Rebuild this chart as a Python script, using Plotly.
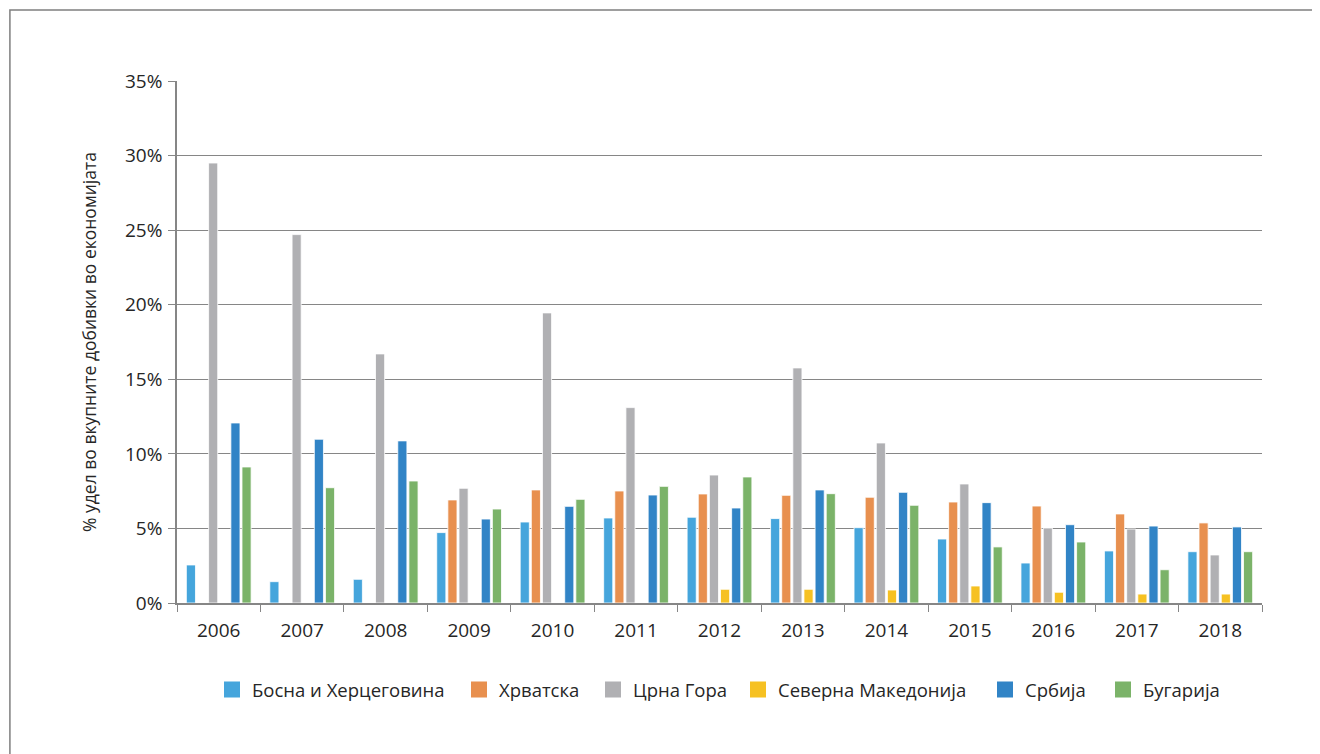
import plotly.graph_objects as go

years = ["2006", "2007", "2008", "2009", "2010", "2011", "2012", "2013", "2014", "2015", "2016", "2017", "2018"]

bih = [2.55, 1.43, 1.59, 4.72, 5.43, 5.70, 5.75, 5.66, 5.05, 4.29, 2.68, 3.49, 3.44]
hrv = [None, None, None, 6.91, 7.58, 7.51, 7.31, 7.22, 7.09, 6.77, 6.50, 5.97, 5.37]
mne = [29.5, 24.7, 16.7, 7.69, 19.45, 13.1, 8.58, 15.76, 10.73, 7.98, 5.03, 4.96, 3.22]
mkd = [None, None, None, None, None, None, 0.92, 0.92, 0.87, 1.14, 0.72, 0.60, 0.60]
srb = [12.07, 10.98, 10.87, 5.63, 6.48, 7.24, 6.37, 7.58, 7.42, 6.73, 5.25, 5.16, 5.10]
bgr = [9.12, 7.73, 8.18, 6.30, 6.95, 7.82, 8.45, 7.33, 6.55, 3.76, 4.09, 2.23, 3.44]

series = [
    ("Босна и Херцеговина", bih, "#45a5dc"),
    ("Хрватска", hrv, "#e8904f"),
    ("Црна Гора", mne, "#b0b0b3"),
    ("Северна Македонија", mkd, "#f6c122"),
    ("Србија", srb, "#3184c6"),
    ("Бугарија", bgr, "#7bb369"),
]

# legend entry left edges (page pixels) – layout only
legend_px = [212, 459, 593, 738, 985, 1103]
PLOT_LEFT, PLOT_W = 177, 1085

fig = go.Figure()
for name, vals, col in series:
    fig.add_trace(go.Bar(
        x=years, y=[v / 100 if v is not None else None for v in vals], name=name,
        marker=dict(color=col, line=dict(color="white", width=0.8)),
        showlegend=False, legendgroup=name,
    ))

font_family = "Open Sans, Liberation Sans, sans-serif"
legends = {}
for i, ((name, vals, col), px) in enumerate(zip(series, legend_px)):
    key = "legend" if i == 0 else f"legend{i+1}"
    fig.add_trace(go.Scatter(
        x=[None], y=[None], mode="markers", name=name, legendgroup=name,
        marker=dict(symbol="square", size=16, color=col),
        legend=key, showlegend=True,
    ))
    legends[key] = dict(orientation="h", x=(px - PLOT_LEFT) / PLOT_W, xanchor="left",
                        y=-0.13, yanchor="top", bgcolor="rgba(0,0,0,0)",
                        font=dict(size=18.5, color="#262626", family=font_family))

fig.update_layout(
    width=1312, height=746,
    margin=dict(l=169, r=58, t=73, b=151),
    paper_bgcolor="white", plot_bgcolor="white",
    barmode="group", bargap=0.2, bargroupgap=0.18,
    font=dict(family=font_family, size=18, color="#262626"),
    showlegend=True,
    xaxis=dict(
        type="category", showgrid=False, showline=True, linecolor="#868686", linewidth=1.5,
        ticks="outside", tickson="boundaries", ticklen=7, tickcolor="#868686",
        tickfont=dict(size=19, color="#262626"), ticklabelstandoff=9,
    ),
    yaxis=dict(
        range=[0, 0.35], dtick=0.05, tickformat=".0%",
        showgrid=True, gridcolor="#868686", gridwidth=1.2,
        showline=True, linecolor="#868686", linewidth=1.5,
        ticks="outside", ticklen=7, tickcolor="#868686",
        tickfont=dict(size=19, color="#262626"), zeroline=False, ticklabelstandoff=2,
        title=dict(text="% удел во вкупните добивки во економијата",
                   font=dict(size=17.5, color="#262626"), standoff=24),
    ),
    shapes=[dict(type="rect", xref="paper", yref="paper",
                 x0=-0.154, x1=1.0498, y0=-0.32, y1=1.136,
                 line=dict(color="#7f7f7f", width=1.5), fillcolor="rgba(0,0,0,0)", layer="below")],
    **legends,
)

fig.write_html("out.html")
